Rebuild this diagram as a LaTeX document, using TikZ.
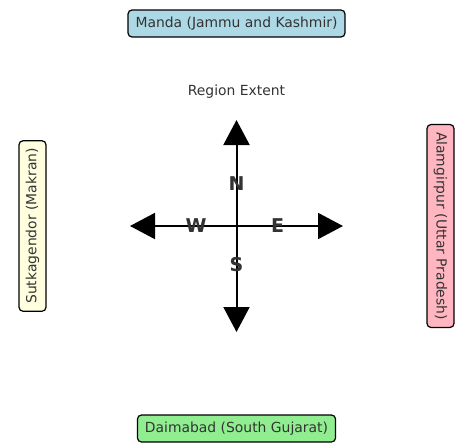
\documentclass[tikz,border=0pt]{standalone}
\usepackage{fontspec}
\setmainfont{DejaVu Sans}
\usetikzlibrary{arrows.meta}
\definecolor{txt}{HTML}{333333}
\definecolor{lblue}{HTML}{ADD8E6}
\definecolor{lpink}{HTML}{FFB6C1}
\definecolor{lyel}{HTML}{FFFFE0}
\definecolor{lgreen}{HTML}{90EE90}
\tikzset{
  site/.style={draw=black, line width=1.2pt, rounded corners=4pt, inner xsep=7.5pt, inner ysep=0pt,
    minimum height=27pt, text=txt, font=\fontsize{13.9}{16}\selectfont},
  dirlabel/.style={text=txt, font=\fontsize{19}{20}\selectfont\bfseries, inner sep=0pt},
  compass/.style={line width=2pt, -{Triangle[width=26pt,length=25pt]}},
}
\begin{document}
\begin{tikzpicture}[x=1pt,y=-1pt]
\useasboundingbox (0,0) rectangle (463,442);
\node[site, fill=lblue] (manda) at (236.5,23.5) {Manda (Jammu and Kashmir)};
\node[site, fill=lgreen] (daim) at (236.5,428.5) {Daimabad (South Gujarat)};
\node[site, fill=lyel, rotate=90] (sutk) at (32.5,226) {Sutkagendor (Makran)};
\node[site, fill=lpink, rotate=-90] (alam) at (440.5,226) {Alamgirpur (Uttar Pradesh)};
\node[text=txt, font=\fontsize{13.9}{16}\selectfont] (title) at (236.5,92) {Region Extent};
\coordinate (c) at (236.5,226);
\coordinate (tn) at (236.5,120);
\coordinate (ts) at (236.5,332);
\coordinate (te) at (343,226);
\coordinate (tw) at (130,226);
\draw[compass] (c) -- (tn);
\draw[compass] (c) -- (ts);
\draw[compass] (c) -- (te);
\draw[compass] (c) -- (tw);
\node[dirlabel] (N) at (236.5,184) {N};
\node[dirlabel] (S) at (236.5,265) {S};
\node[dirlabel] (W) at (196,226) {W};
\node[dirlabel] (E) at (277.5,226) {E};
\end{tikzpicture}
\end{document}
